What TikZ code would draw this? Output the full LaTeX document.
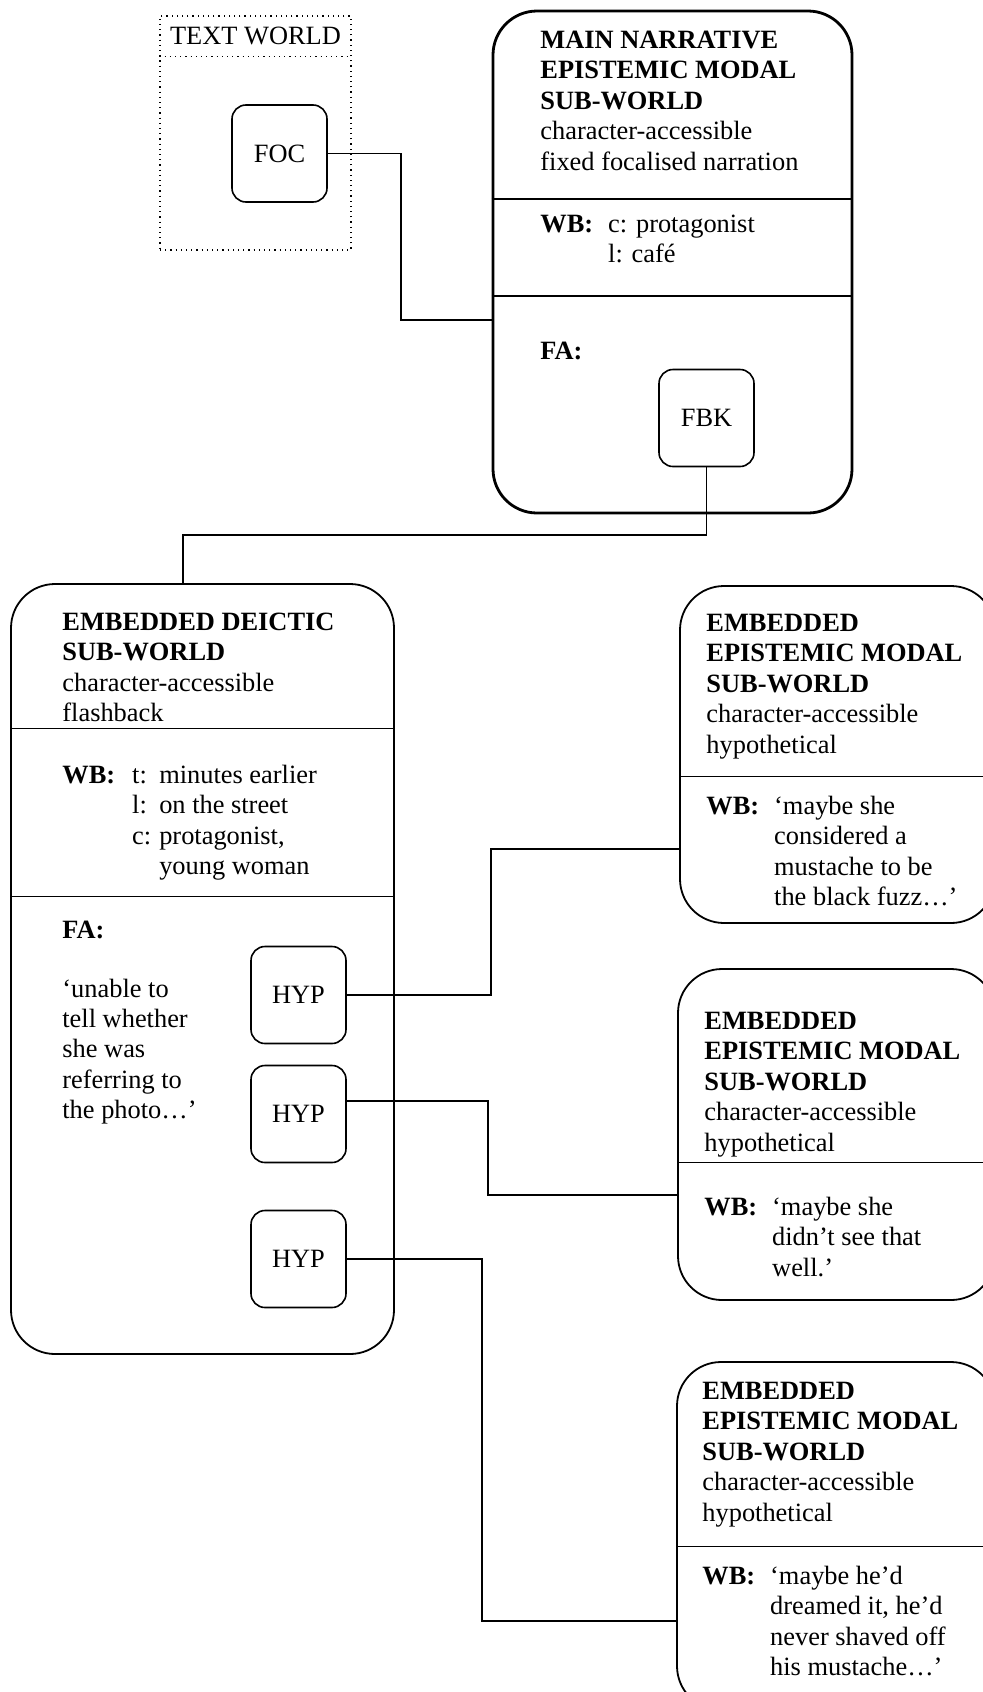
\documentclass[tikz,border=0pt]{standalone}
\usepackage{fontspec}
\setmainfont{Liberation Serif}
\usetikzlibrary{positioning,calc}

\begin{document}
\begin{tikzpicture}[x=0.5pt, y=-0.5pt, font=\fontsize{13.2}{15.2}\selectfont, world/.style={draw, rounded corners=22pt, line width=0.9pt}, mini/.style={draw, rounded corners=7pt, minimum width=47.5pt, minimum height=48.5pt, line width=0.8pt}, txt/.style={anchor=base west, inner sep=0pt}, link/.style={line width=0.75pt}]
\useasboundingbox (0,0) rectangle (982,1692);
\node[draw, dotted, line width=0.6pt, minimum width=95.5pt, minimum height=117pt] (tw) at (255.5,133) {};
\node[anchor=north, minimum height=20pt] (twlabel) at (tw.north) {TEXT WORLD};
\draw[dotted, line width=0.6pt] (twlabel.south -| tw.west) -- (twlabel.south -| tw.east);
\node[mini] (foc) at (279.5,153.5) {FOC};
\node[world, line width=1.4pt, minimum width=179.5pt, minimum height=251pt] (main) at (672.5,262) {};
\draw[line width=0.9pt] ([yshift=-94.5pt]main.north west) -- ([yshift=-94.5pt]main.north east);
\draw[line width=0.9pt] ([yshift=-143pt]main.north west) -- ([yshift=-143pt]main.north east);
\node[txt] (maintitle) at (540,48.5) {\begin{tabular}[t]{@{}l@{}}\textbf{MAIN NARRATIVE}\\ \textbf{EPISTEMIC MODAL}\\ \textbf{SUB-WORLD}\\ character-accessible\\ fixed focalised narration\end{tabular}};
\node[txt] (mainwb) at (540,232.5) {\begin{tabular}[t]{@{}l@{\hspace{7.5pt}}l@{}}\textbf{WB:} & c: protagonist\\ & l: café\end{tabular}};
\node[txt] (mainfa) at (540,359.5) {\textbf{FA:}};
\node[mini] (fbk) at (706.5,418) {FBK};
\node[world, minimum width=191.5pt, minimum height=385pt] (deictic) at (202.5,969) {};
\draw ([yshift=-72.5pt]deictic.north west) -- ([yshift=-72.5pt]deictic.north east);
\draw ([yshift=-156.5pt]deictic.north west) -- ([yshift=-156.5pt]deictic.north east);
\node[txt] (dtitle) at (62,630.5) {\begin{tabular}[t]{@{}l@{}}\textbf{EMBEDDED DEICTIC}\\ \textbf{SUB-WORLD}\\ character-accessible\\ flashback\end{tabular}};
\node[txt] (dwb) at (62,783.5) {\begin{tabular}[t]{@{}l@{\hspace{8.5pt}}l@{\hspace{4pt}}l@{}}\textbf{WB:} & t: & minutes earlier\\ & l: & on the street\\ & c: & protagonist,\\ & & young woman\end{tabular}};
\node[txt] (dfa) at (62,938) {\textbf{FA:}};
\node[txt] (dquote) at (62,997) {\begin{tabular}[t]{@{}l@{}}‘unable to\\ tell whether\\ she was\\ referring to\\ the photo…’\end{tabular}};
\node[mini] (hyp1) at (298.5,995) {HYP};
\node[mini] (hyp2) at (298.5,1114) {HYP};
\node[mini] (hyp3) at (298.5,1259) {HYP};
\node[world, minimum width=157.5pt, minimum height=168.5pt] (epi1) at (837.5,754.5) {};
\draw ([yshift=-95.5pt]epi1.north west) -- ([yshift=-95.5pt]epi1.north east);
\node[txt] (e1title) at (706,631.5) {\begin{tabular}[t]{@{}l@{}}\textbf{EMBEDDED}\\ \textbf{EPISTEMIC MODAL}\\ \textbf{SUB-WORLD}\\ character-accessible\\ hypothetical\end{tabular}};
\node[txt] (e1wb) at (706,814.5) {\begin{tabular}[t]{@{}l@{\hspace{7.5pt}}l@{}}\textbf{WB:} & ‘maybe she\\ & considered a\\ & mustache to be\\ & the black fuzz…’\end{tabular}};
\node[world, minimum width=158.5pt, minimum height=165.5pt] (epi2) at (836.5,1134.5) {};
\draw ([yshift=-97pt]epi2.north west) -- ([yshift=-97pt]epi2.north east);
\node[txt] (e2title) at (704,1029.5) {\begin{tabular}[t]{@{}l@{}}\textbf{EMBEDDED}\\ \textbf{EPISTEMIC MODAL}\\ \textbf{SUB-WORLD}\\ character-accessible\\ hypothetical\end{tabular}};
\node[txt] (e2wb) at (704,1215.5) {\begin{tabular}[t]{@{}l@{\hspace{7.5pt}}l@{}}\textbf{WB:} & ‘maybe she\\ & didn’t see that\\ & well.’\end{tabular}};
\node[world, minimum width=159pt, minimum height=174pt] (epi3) at (836,1536) {};
\draw ([yshift=-92.5pt]epi3.north west) -- ([yshift=-92.5pt]epi3.north east);
\node[txt] (e3title) at (702,1399.5) {\begin{tabular}[t]{@{}l@{}}\textbf{EMBEDDED}\\ \textbf{EPISTEMIC MODAL}\\ \textbf{SUB-WORLD}\\ character-accessible\\ hypothetical\end{tabular}};
\node[txt] (e3wb) at (702,1584.5) {\begin{tabular}[t]{@{}l@{\hspace{7.5pt}}l@{}}\textbf{WB:} & ‘maybe he’d\\ & dreamed it, he’d\\ & never shaved off\\ & his mustache…’\end{tabular}};
\coordinate (k1) at (401,320);
\coordinate (k2) at (183,535);
\coordinate (k3) at (491,849);
\coordinate (k4) at (488,1195);
\coordinate (k5) at (482,1621);
\draw[link] (foc.east) -| (k1) -- (k1 -| main.west);
\draw[link] (fbk.south) |- (k2) -- (k2 |- deictic.north);
\draw[link] (hyp1.east) -| (k3) -- (k3 -| epi1.west);
\draw[link] ([yshift=6.5pt]hyp2.east) -| (k4) -- (k4 -| epi2.west);
\draw[link] (hyp3.east) -| (k5) -- (k5 -| epi3.west);
\end{tikzpicture}
\end{document}
